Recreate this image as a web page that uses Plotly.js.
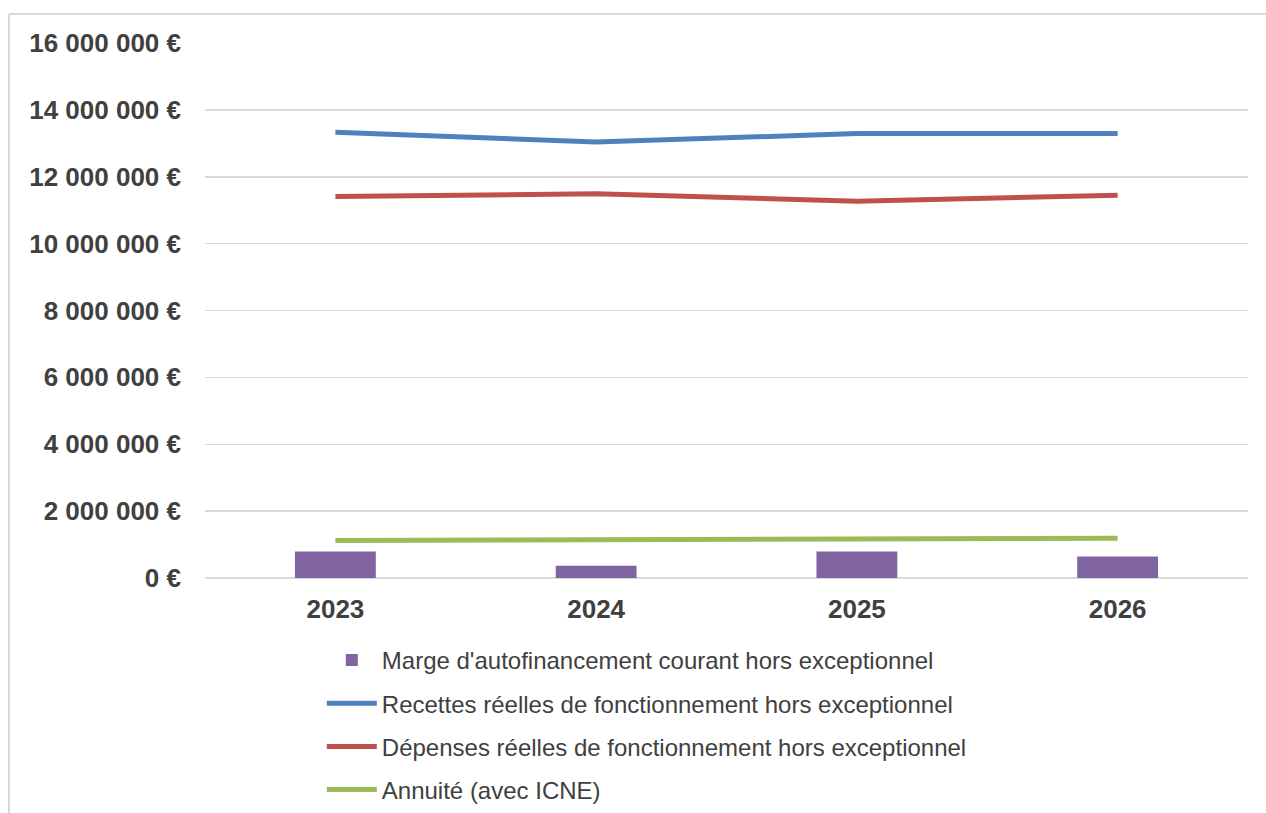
<!DOCTYPE html>
<html>
<head>
<meta charset="utf-8">
<script src="https://cdn.plot.ly/plotly-3.0.1.min.js"></script>
<style>
  html, body { margin: 0; padding: 0; background: #fff; }
  #chart { width: 1266px; height: 813px; }
</style>
</head>
<body>
<div id="chart"></div>
<script>
const years = ["2023", "2024", "2025", "2026"];
const marge = [790000, 370000, 790000, 640000];
const recettes = [13330000, 13040000, 13290000, 13290000];
const depenses = [11410000, 11490000, 11270000, 11450000];
const annuite = [1120000, 1145000, 1170000, 1190000];

const seriesNames = [
  "Marge d'autofinancement courant hors exceptionnel",
  "Recettes réelles de fonctionnement hors exceptionnel",
  "Dépenses réelles de fonctionnement hors exceptionnel",
  "Annuité (avec ICNE)"
];

const traces = [
  { type: "bar", x: years, y: marge, name: seriesNames[0], legendgroup: "a",
    marker: { color: "#8064A2" } },
  { type: "scatter", mode: "lines", x: years, y: recettes, name: seriesNames[1], legendgroup: "b",
    line: { color: "#4F81BD", width: 5 } },
  { type: "scatter", mode: "lines", x: years, y: depenses, name: seriesNames[2], legendgroup: "c",
    line: { color: "#C0504D", width: 5 } },
  { type: "scatter", mode: "lines", x: years, y: annuite, name: seriesNames[3], legendgroup: "d",
    line: { color: "#9BBB59", width: 5 } }
];

const layout = {
  width: 1266, height: 813,
  margin: { l: 205, r: 18, t: 43, b: 235, autoexpand: false },
  paper_bgcolor: "#fff", plot_bgcolor: "#fff",
  separators: ", ",
  font: { family: "Liberation Sans, Arial, sans-serif", color: "#404040" },
  bargap: 0.69,
  showlegend: true,
  xaxis: {
    type: "category",
    showgrid: false, zeroline: false, showline: false,
    ticks: "", ticklabelstandoff: 13,
    tickfont: { size: 26, weight: "bold", color: "#404040" }
  },
  yaxis: {
    range: [0, 16000000],
    dtick: 2000000,
    tickformat: ",.0f",
    ticksuffix: " €",
    showgrid: true, gridcolor: "#D9D9D9", gridwidth: 1.5,
    zeroline: true, zerolinecolor: "#D9D9D9", zerolinewidth: 1.5,
    showline: false, ticks: "", ticklabelstandoff: 23,
    tickfont: { size: 26, weight: "bold", color: "#404040" }
  },
  legend: {
    orientation: "v",
    x: 0.112, xanchor: "left",
    y: -0.112, yanchor: "top",
    traceorder: "grouped",
    tracegroupgap: 9,
    itemwidth: 50,
    font: { size: 24, color: "#404040" },
    bgcolor: "rgba(0,0,0,0)"
  },
  shapes: [
    { type: "line", xref: "paper", yref: "paper",
      x0: -0.1879, x1: 1.1, y0: 1.0542, y1: 1.0542,
      line: { color: "#D9D9D9", width: 2 } },
    { type: "line", xref: "paper", yref: "paper",
      x0: -0.1879, x1: -0.1879, y0: 1.0542, y1: -0.5,
      line: { color: "#D9D9D9", width: 2 } }
  ]
};

Plotly.newPlot("chart", traces, layout, { displayModeBar: false, staticPlot: true });
</script>
</body>
</html>
